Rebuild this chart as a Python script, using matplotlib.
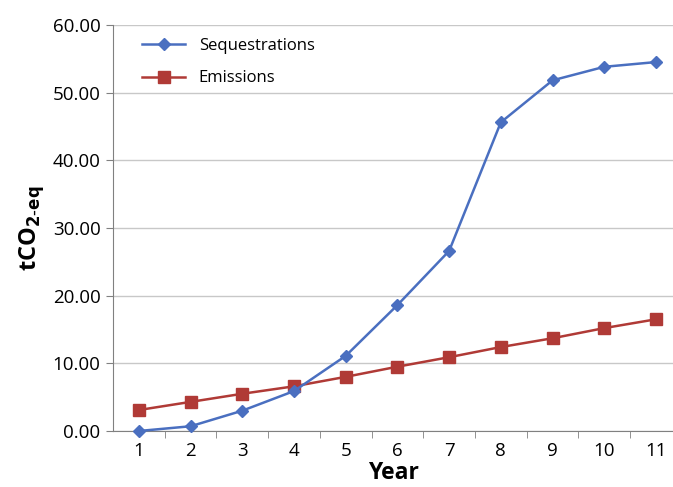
import numpy as np
import matplotlib
matplotlib.use("Agg")
import matplotlib.pyplot as plt

plt.rcParams['font.family'] = ['Open Sans', 'DejaVu Sans']

# data
years = [1, 2, 3, 4, 5, 6, 7, 8, 9, 10, 11]
sequestrations = [0.0, 0.7, 3.0, 5.9, 11.1, 18.6, 26.6, 45.6, 51.8, 53.8, 54.5]
emissions = [3.1, 4.3, 5.5, 6.6, 8.0, 9.5, 10.9, 12.4, 13.7, 15.2, 16.5]
y_ticks = [0, 10, 20, 30, 40, 50, 60]

blue = '#4a6fc0'
red = '#b03a36'

fig = plt.figure(figsize=(6.73, 4.87), dpi=100)
ax = fig.add_axes([0.168, 0.115, 0.832, 0.834])

ax.plot(years, sequestrations, color=blue, marker='D', ms=6, lw=1.8,
        label='Sequestrations', zorder=4, clip_on=False)
ax.plot(years, emissions, color=red, marker='s', ms=8, lw=1.8,
        label='Emissions', zorder=3, clip_on=False)

ax.set_xlim(0.5, 11.33)
ax.set_ylim(0, 60)
ax.set_yticks(y_ticks)
ax.set_yticklabels(['%.2f' % v for v in y_ticks])
ax.set_xticks(years)
ax.set_xticklabels([str(v) for v in years])
ax.set_xticks(np.arange(1.5, 11.5, 1), minor=True)

ax.grid(axis='y', color='#c8c8c8', lw=1)
ax.set_axisbelow(True)
for s in ['top', 'right']:
    ax.spines[s].set_visible(False)
ax.spines['left'].set_color('#808080')
ax.spines['bottom'].set_color('#808080')
ax.tick_params(axis='y', length=5, color='#808080', labelsize=13.5, pad=4)
ax.tick_params(axis='x', which='major', length=0, labelsize=13.5, pad=8)
ax.tick_params(axis='x', which='minor', length=5, color='#808080')

ax.set_xlabel('Year', fontsize=16.5, fontweight='bold', labelpad=0.5)
ax.set_ylabel(r'tCO$_{\mathbf{2\text{-}eq}}$', fontsize=17, fontweight='bold', labelpad=4)

ax.legend(loc='upper left', frameon=False, fontsize=12,
          bbox_to_anchor=(0.025, 1.005), labelspacing=1.0, handlelength=2.6)

fig.savefig('out.png', dpi=100)
